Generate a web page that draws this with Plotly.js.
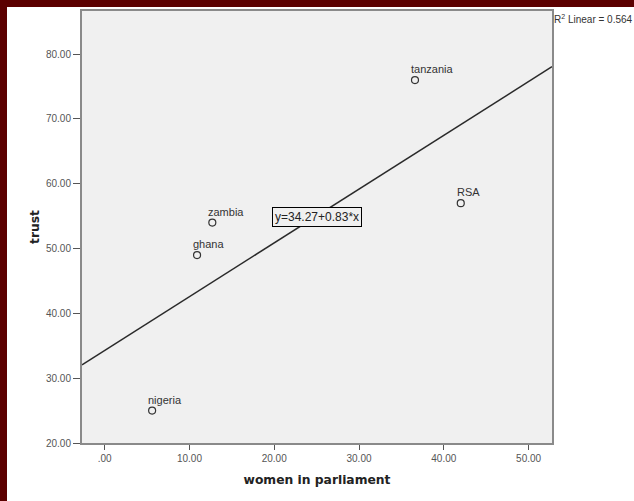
<!DOCTYPE html>
<html>
<head>
<meta charset="utf-8">
<script src="https://cdn.plot.ly/plotly-3.0.1.min.js"></script>
<style>
  html, body { margin: 0; padding: 0; background: #5c0000; width: 634px; height: 501px; overflow: hidden; }
  #chart { position: absolute; left: 7px; top: 7px; width: 627px; height: 494px; background: #ffffff; }
</style>
</head>
<body>
<div id="chart"></div>
<script>
// Data
var countries = ["tanzania", "RSA", "zambia", "ghana", "nigeria"];
var womenInParliament = [36.6, 42.0, 12.7, 10.9, 5.6];
var trust = [76, 57, 54, 49, 25];

// Fit line as printed on the chart
var fitIntercept = 34.27;
var fitSlope = 0.83;
var fitLabel = "y=34.27+0.83*x";
var rSquaredLabel = "R<sup>2</sup> Linear = 0.564";

// Axes
var xRange = [-2.67, 52.76];
var yRange = [20, 86.65];
var xTickVals = [0, 10, 20, 30, 40, 50];
var xTickText = [".00", "10.00", "20.00", "30.00", "40.00", "50.00"];
var yTickVals = [20, 30, 40, 50, 60, 70, 80];
var yTickText = ["20.00", "30.00", "40.00", "50.00", "60.00", "70.00", "80.00"];

var fitX = xRange.slice();
var fitY = fitX.map(function (x) { return fitIntercept + fitSlope * x; });

var traces = [
  {
    x: fitX, y: fitY, mode: "lines", type: "scatter",
    line: { color: "#2a2a2a", width: 1.5 },
    hoverinfo: "skip", showlegend: false
  },
  {
    x: womenInParliament, y: trust, mode: "markers", type: "scatter",
    marker: { symbol: "circle-open", size: 7, color: "#333333", line: { width: 1.2, color: "#333333" } },
    showlegend: false
  }
];

var annotations = countries.map(function (c, i) {
  return {
    x: womenInParliament[i], y: trust[i], xref: "x", yref: "y",
    text: c, showarrow: false, xanchor: "left", yanchor: "bottom",
    xshift: -6, yshift: 3,
    font: { family: "Arial, 'Liberation Sans', sans-serif", size: 11, color: "#333333" }
  };
});
annotations.push({
  x: 25.0, y: 54.9, xref: "x", yref: "y", text: fitLabel, showarrow: false,
  xanchor: "center", yanchor: "middle",
  bordercolor: "#000000", borderwidth: 1, borderpad: 2, bgcolor: "#f0f0f0",
  font: { family: "Arial, 'Liberation Sans', sans-serif", size: 12, color: "#222222" }
});
annotations.push({
  x: 1, y: 1, xref: "paper", yref: "paper", text: rSquaredLabel, showarrow: false,
  xanchor: "left", yanchor: "top", xshift: 0, yshift: 0,
  font: { family: "Arial, 'Liberation Sans', sans-serif", size: 10, color: "#333333" }
});

var axisCommon = {
  showgrid: false, zeroline: false, showline: true, mirror: true,
  linecolor: "#8a8a8a", linewidth: 2,
  ticks: "outside", tickcolor: "#555555", tickwidth: 1,
  tickfont: { family: "Arial, 'Liberation Sans', sans-serif", size: 10, color: "#555555" },
  tickmode: "array", fixedrange: true
};

var layout = {
  width: 627, height: 494,
  margin: { l: 75, r: 82, t: 4, b: 58 },
  paper_bgcolor: "#ffffff", plot_bgcolor: "#f0f0f0",
  showlegend: false,
  xaxis: Object.assign({}, axisCommon, {
    range: xRange, tickvals: xTickVals, ticktext: xTickText, ticklen: 5,
    title: { text: "women in parliament", standoff: 12,
      font: { family: "'DejaVu Sans', Verdana, sans-serif", size: 12.3, color: "#222222", weight: "bold" } }
  }),
  yaxis: Object.assign({}, axisCommon, {
    range: yRange, tickvals: yTickVals, ticktext: yTickText, ticklen: 7,
    title: { text: "trust", standoff: 4,
      font: { family: "'DejaVu Sans', Verdana, sans-serif", size: 12.3, color: "#222222", weight: "bold" } }
  }),
  annotations: annotations
};

Plotly.newPlot("chart", traces, layout, { displayModeBar: false, staticPlot: true });
</script>
</body>
</html>
